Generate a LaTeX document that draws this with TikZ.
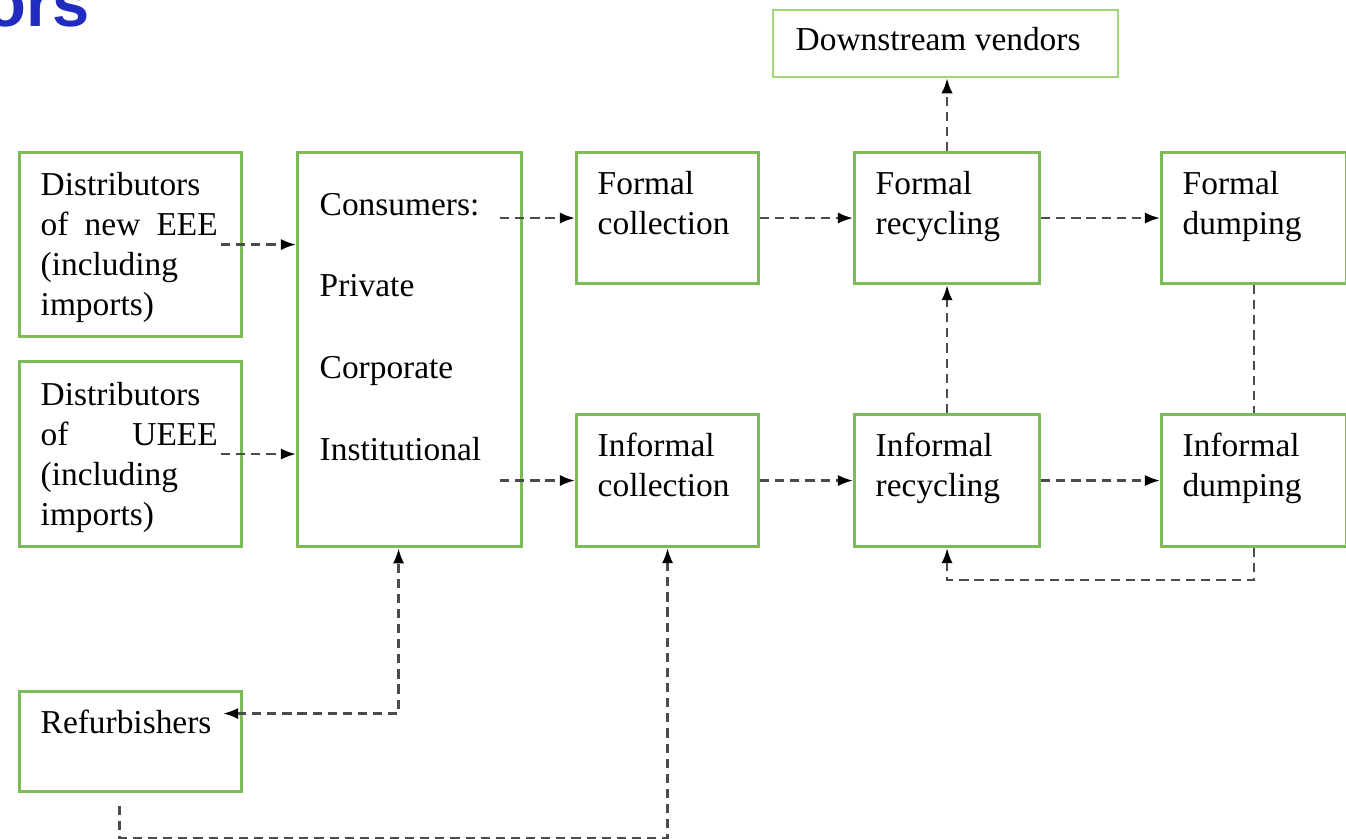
\documentclass[tikz,border=0pt]{standalone}
\usepackage{fontspec}
\setmainfont{Liberation Serif}
\newfontfamily\headfont{Liberation Sans}
\usetikzlibrary{positioning, arrows.meta}
\definecolor{boxgreen}{RGB}{125, 187, 88}
\definecolor{lightgreen}{RGB}{160, 215, 125}
\definecolor{headblue}{RGB}{32, 44, 192}
\definecolor{flowgray}{RGB}{75, 75, 75}

\begin{document}
\begin{tikzpicture}[x=0.01cm, y=-0.01cm,
    box/.style={draw=boxgreen, line width=0.85pt, inner sep=0pt, anchor=north west},
    txt/.style={inner sep=0pt, anchor=base west, font=\fontsize{9.5}{11.4}\selectfont},
    flow/.style={draw=flowgray, line width=0.7pt, dash pattern=on 2.6pt off 1.7pt,
      -{Latex[length=4.3pt, width=3.2pt, black]}},
    flowboth/.style={flow, {Latex[length=4.3pt, width=3.2pt, black]}-{Latex[length=4.3pt, width=3.2pt, black]}}]
  \useasboundingbox (0,0) rectangle (1346,838);
  \begin{scope}
    \clip (0,0) rectangle (1346,838);
    \node[anchor=base east, inner sep=0pt, text=headblue,
      font=\headfont\bfseries\fontsize{19}{19}\selectfont] (head) at (90,26) {ors};
  \end{scope}

  % boxes
  \node[box, minimum width=2.22cm, minimum height=1.84cm] (dn) at (18,151) {};
  \node[box, minimum width=2.22cm, minimum height=1.85cm] (du) at (18,360) {};
  \node[box, minimum width=2.24cm, minimum height=3.94cm] (cons) at (296,151) {};
  \node[box, minimum width=1.82cm, minimum height=1.31cm] (fc) at (575,151) {};
  \node[box, minimum width=1.82cm, minimum height=1.32cm] (ic) at (575,413) {};
  \node[box, minimum width=1.85cm, minimum height=1.31cm] (fr) at (853,151) {};
  \node[box, minimum width=1.85cm, minimum height=1.32cm] (ir) at (853,413) {};
  \node[box, minimum width=1.85cm, minimum height=1.31cm] (fd) at (1160,151) {};
  \node[box, minimum width=1.85cm, minimum height=1.32cm] (id) at (1160,413) {};
  \node[box, draw=lightgreen, line width=0.6pt, minimum width=3.45cm, minimum height=0.67cm] (dv) at (772,9) {};
  \node[box, minimum width=2.22cm, minimum height=1.00cm] (ref) at (18,690) {};

  % texts
  \node[txt, below right=0.44cm and 0.22cm of dn.north west, anchor=base west] (dn-t)
    {\parbox[t]{1.77cm}{Distributors\\of\hfill new\hfill EEE\\(including\\imports)}};
  \node[txt, below right=0.45cm and 0.22cm of du.north west, anchor=base west] (du-t)
    {\parbox[t]{1.77cm}{Distributors\\of\hfill UEEE\\(including\\imports)}};
  \node[txt, below right=0.64cm and 0.23cm of cons.north west, anchor=base west,
    font=\fontsize{9.5}{23.3}\selectfont] (cons-t)
    {\parbox[t]{1.8cm}{Consumers:\\Private\\Corporate\\Institutional}};
  \node[txt, below right=0.43cm and 0.22cm of fc.north west, anchor=base west] (fc-t)
    {\parbox[t]{1.5cm}{Formal\\collection}};
  \node[txt, below right=0.43cm and 0.22cm of ic.north west, anchor=base west] (ic-t)
    {\parbox[t]{1.5cm}{Informal\\collection}};
  \node[txt, below right=0.43cm and 0.22cm of fr.north west, anchor=base west] (fr-t)
    {\parbox[t]{1.5cm}{Formal\\recycling}};
  \node[txt, below right=0.43cm and 0.22cm of ir.north west, anchor=base west] (ir-t)
    {\parbox[t]{1.5cm}{Informal\\recycling}};
  \node[txt, below right=0.43cm and 0.22cm of fd.north west, anchor=base west] (fd-t)
    {\parbox[t]{1.5cm}{Formal\\dumping}};
  \node[txt, below right=0.43cm and 0.22cm of id.north west, anchor=base west] (id-t)
    {\parbox[t]{1.5cm}{Informal\\dumping}};
  \node[txt, below right=0.41cm and 0.23cm of dv.north west, anchor=base west] (dv-t)
    {Downstream vendors};
  \node[txt, below right=0.43cm and 0.22cm of ref.north west, anchor=base west] (ref-t)
    {Refurbishers};

  % flows
  \draw[flow] ([xshift=-0.22cm]dn.east) -- (dn.east -| cons.west);
  \draw[flow] ([xshift=-0.22cm]du.east) -- (du.east -| cons.west);
  \draw[flow] ([xshift=-0.23cm]cons.east |- fc.west) -- (fc.west);
  \draw[flow] ([xshift=-0.23cm]cons.east |- ic.west) -- (ic.west);
  \draw[flow] (fc.east) -- (fr.west);
  \draw[flow] (fr.east) -- (fd.west);
  \draw[flow] (ic.east) -- (ir.west);
  \draw[flow] (ir.east) -- (id.west);
  \draw[flow] (ir.north) -- (fr.south);
  \draw[flow] (fr.north) -- (fr.north |- dv.south);
  \draw[flow, -] (fd.south) -- (id.north);
  \draw[flow] (id.south) -- ++(0,32) -| (ir.south);
  \draw[flowboth] ([xshift=-0.2cm, yshift=0.28cm]ref.east) -| ([xshift=-0.11cm]cons.south);
  \draw[flow] ([xshift=-0.11cm, yshift=-0.13cm]ref.south) -- ++(0,32) -| (ic.south);
\end{tikzpicture}
\end{document}
